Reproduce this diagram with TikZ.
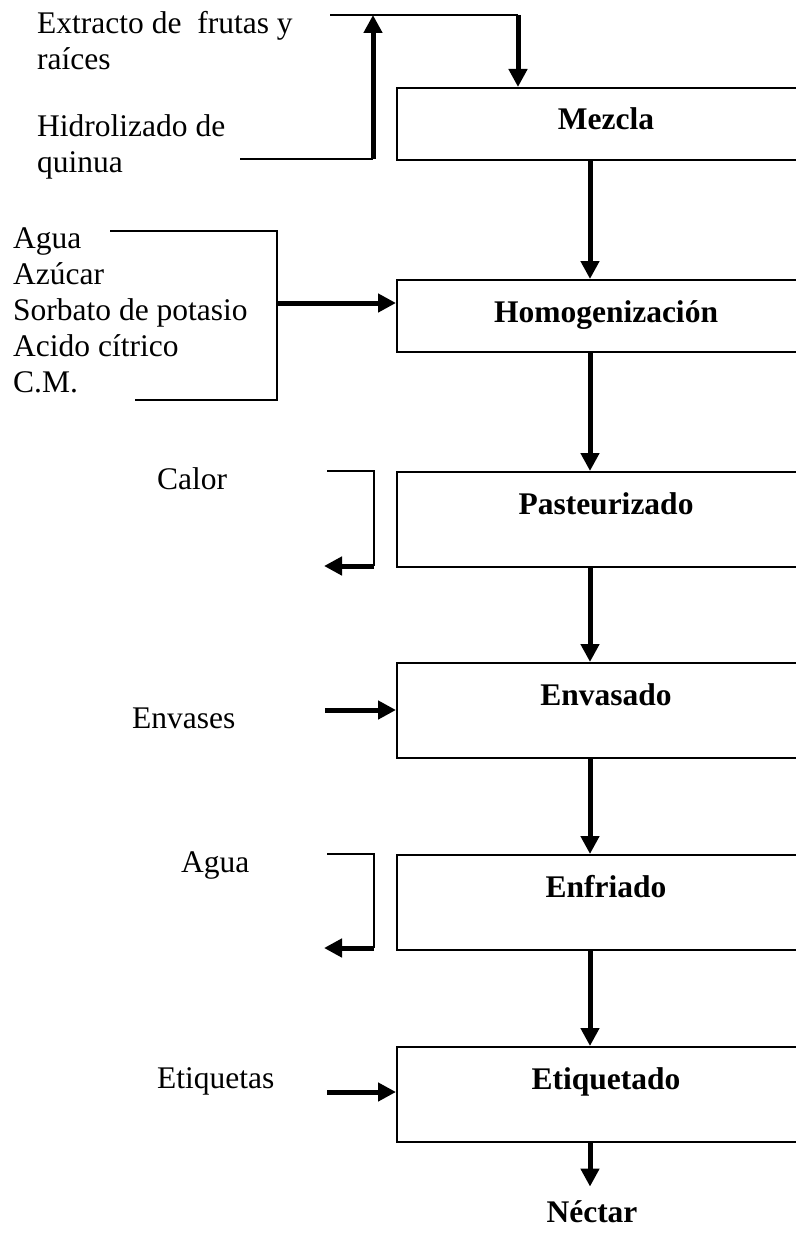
\documentclass[tikz,border=0pt]{standalone}
\usepackage{fontspec}
\setmainfont{Liberation Serif}
\usepackage{tikz}
\usetikzlibrary{arrows.meta,positioning,calc}
\newcommand{\docfont}{\fontsize{31.5}{36}\selectfont}
\tikzset{
  proc/.style={rectangle, draw, line width=2pt, minimum width=418pt, inner sep=0pt,
    text height=42pt, text depth=30pt, font=\docfont\bfseries},
  proctall/.style={proc, text depth=53pt},
  flow/.style={-{Triangle[width=18pt,length=18pt]}, line width=5pt},
  link/.style={line width=2pt},
  inp/.style={anchor=base west, align=left, inner sep=0pt}
}
\begin{document}
\begin{tikzpicture}[x=1pt, y=-1pt, font=\docfont]
    \useasboundingbox (0,0) rectangle (795,1236);

    % Process boxes
    \node[proc, anchor=north] (mez) at (606,87) {Mezcla};
    \node[proc, anchor=north] (hom) at (606,279) {Homogenización};
    \node[proctall, anchor=north] (pas) at (606,471) {Pasteurizado};
    \node[proctall, anchor=north] (env) at (606,662) {Envasado};
    \node[proctall, anchor=north] (enf) at (606,854) {Enfriado};
    \node[proctall, anchor=north] (eti) at (606,1046) {Etiquetado};
    \node[font=\docfont\bfseries, anchor=base] (nec) at (592,1222) {Néctar};

    % Main flow
    \coordinate (ax) at (590,0);
    \draw[flow] (mez.south -| ax) -- (hom.north -| ax);
    \draw[flow] (hom.south -| ax) -- (pas.north -| ax);
    \draw[flow] (pas.south -| ax) -- (env.north -| ax);
    \draw[flow] (env.south -| ax) -- (enf.north -| ax);
    \draw[flow] (enf.south -| ax) -- (eti.north -| ax);
    \draw[flow, shorten >=10pt] (eti.south -| ax) -- (nec.north -| ax);

    % Raw materials (base = last line)
    \node[inp] (ext) at (37,70) {Extracto de~ frutas y\\raíces};
    \node[inp] (hid) at (37,172) {Hidrolizado de\\quinua};
    \coordinate (e1) at (330,15);
    \coordinate (e2) at (518,15);
    \coordinate (h1) at (240,159);
    \coordinate (h2) at (373,159);
    \draw[link] (e1) -- (e2);
    \draw[flow] (e2) -- (e2 |- mez.north);
    \draw[link] (h1) -- (h2);
    \draw[flow] (h2) -- (h2 |- e1);

    % Additives
    \node[inp] (ing) at (13,392) {Agua\\Azúcar\\Sorbato de potasio\\Acido cítrico\\C.M.};
    \coordinate (a1) at (110,231);
    \coordinate (a2) at (277,231);
    \coordinate (a3) at (277,400);
    \coordinate (a4) at (135,400);
    \coordinate (a5) at (277,303);
    \draw[link] (a1) -- (a2) -- (a3) -- (a4);
    \draw[flow] (a5) -- (a5 -| hom.west);

    % Heat
    \node[inp] (cal) at (157,489) {Calor};
    \coordinate (c1) at (327,471);
    \coordinate (c2) at (374,471);
    \coordinate (c3) at (374,566);
    \coordinate (c4) at (324,566);
    \draw[link] (c1) -- (c2) -- (c3);
    \draw[flow] (c3) -- (c4);

    % Containers
    \node[inp] (evs) at (132,728) {Envases};
    \coordinate (v1) at (325,710);
    \draw[flow] (v1) -- (v1 -| env.west);

    % Cooling water
    \node[inp] (agu) at (181,872) {Agua};
    \coordinate (w1) at (327,854);
    \coordinate (w2) at (374,854);
    \coordinate (w3) at (374,948);
    \coordinate (w4) at (324,948);
    \draw[link] (w1) -- (w2) -- (w3);
    \draw[flow] (w3) -- (w4);

    % Labels
    \node[inp] (etq) at (157,1088) {Etiquetas};
    \coordinate (l1) at (327,1092);
    \draw[flow] (l1) -- (l1 -| eti.west);

\end{tikzpicture}
\end{document}
